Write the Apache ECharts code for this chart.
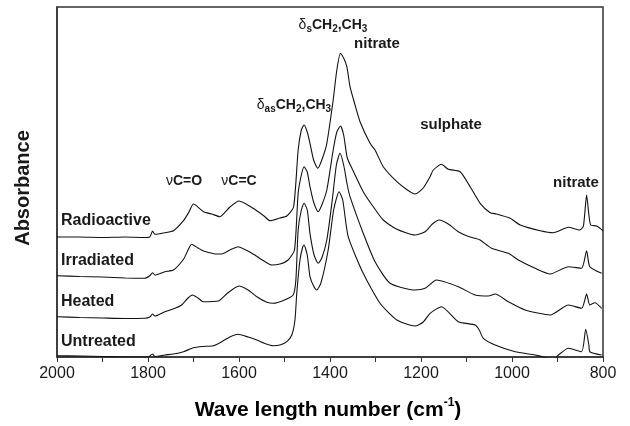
<!DOCTYPE html>
<html>
<head>
<meta charset="utf-8">
<script src="https://cdn.jsdelivr.net/npm/echarts@6/dist/echarts.min.js"></script>
<style>html,body{margin:0;padding:0;background:#fff}#c{width:630px;height:426px}</style>
</head>
<body>
<div id="c"></div>
<script>
// Wavenumber (cm-1) vs absorbance (offset, arbitrary units)
var radioactive = [
[2000,1.20],[1950,1.20],[1900,1.195],[1850,1.20],[1810,1.195],[1796,1.20],[1790,1.26],[1785,1.227],
[1763,1.243],[1744,1.263],[1722,1.363],[1710,1.45],[1700,1.53],[1678,1.453],[1660,1.43],[1642,1.403],
[1620,1.50],[1600,1.56],[1569,1.487],[1545,1.41],[1532,1.363],[1510,1.39],[1495,1.41],[1480,1.50],
[1470,2.07],[1463,2.27],[1457,2.32],[1450,2.25],[1444,2.137],[1436,1.97],[1427,1.887],[1418,1.97],
[1407,2.137],[1393,2.57],[1385,2.87],[1377,3.037],[1370,2.99],[1363,2.903],[1356,2.703],[1345,2.52],
[1334,2.353],[1312,2.137],[1301,2.07],[1283,1.903],[1253,1.753],[1230,1.67],[1213,1.63],[1195,1.69],
[1180,1.803],[1173,1.87],[1155,1.927],[1140,1.877],[1114,1.853],[1092,1.703],[1070,1.537],[1048,1.443],
[1034,1.43],[1004,1.387],[982,1.32],[938,1.263],[909,1.243],[876,1.297],[851,1.27],[843,1.31],
[836,1.62],[831,1.42],[827,1.32],[814,1.31],[800,1.263]
];
var irradiated = [
[2000,0.813],[1950,0.805],[1900,0.80],[1850,0.79],[1807,0.787],[1796,0.813],[1790,0.843],[1785,0.82],
[1763,0.853],[1744,0.87],[1722,0.977],[1712,1.07],[1704,1.127],[1690,1.09],[1678,1.06],[1655,1.033],
[1638,1.03],[1620,1.07],[1602,1.103],[1585,1.07],[1569,1.03],[1545,0.96],[1528,0.92],[1510,0.93],
[1492,0.97],[1478,1.07],[1470,1.637],[1463,1.82],[1457,1.903],[1450,1.85],[1444,1.703],[1436,1.55],
[1426,1.453],[1418,1.52],[1407,1.67],[1393,2.07],[1385,2.25],[1377,2.31],[1370,2.22],[1362,1.99],
[1350,1.87],[1327,1.653],[1305,1.503],[1283,1.37],[1253,1.277],[1213,1.22],[1191,1.253],[1175,1.33],
[1160,1.37],[1140,1.33],[1118,1.253],[1095,1.205],[1081,1.187],[1070,1.17],[1045,1.087],[1008,1.037],
[986,0.97],[949,0.887],[916,0.83],[876,0.903],[847,0.887],[836,1.063],[829,0.903],[803,0.837]
];
var heated = [
[2000,0.403],[1950,0.395],[1900,0.39],[1850,0.385],[1807,0.387],[1796,0.40],[1790,0.43],[1785,0.41],
[1763,0.453],[1745,0.48],[1726,0.52],[1712,0.59],[1702,0.62],[1690,0.59],[1679,0.553],[1645,0.56],
[1625,0.64],[1600,0.71],[1580,0.67],[1560,0.60],[1540,0.55],[1525,0.537],[1500,0.57],[1481,0.62],
[1475,0.77],[1470,1.27],[1463,1.47],[1457,1.537],[1450,1.47],[1444,1.237],[1435,1.02],[1426,0.937],
[1418,0.99],[1407,1.17],[1395,1.57],[1386,1.92],[1378,2.037],[1370,1.92],[1362,1.72],[1356,1.603],
[1327,1.237],[1301,0.953],[1268,0.737],[1213,0.67],[1191,0.687],[1166,0.77],[1118,0.703],[1081,0.62],
[1052,0.61],[1037,0.63],[1008,0.553],[971,0.47],[916,0.42],[876,0.52],[847,0.487],[836,0.63],
[829,0.52],[818,0.543],[803,0.487]
];
var untreated = [
[2000,0.013],[1950,0.01],[1900,0.005],[1850,0.0],[1800,0.0],[1790,0.03],[1785,0.005],[1763,0.02],
[1744,0.03],[1722,0.053],[1700,0.093],[1680,0.105],[1656,0.113],[1638,0.153],[1620,0.20],[1603,0.227],
[1580,0.20],[1561,0.17],[1540,0.13],[1525,0.113],[1510,0.12],[1495,0.153],[1484,0.22],[1477,0.37],
[1473,0.64],[1466,0.97],[1460,1.10],[1457,1.12],[1450,1.02],[1444,0.803],[1436,0.71],[1429,0.67],
[1420,0.74],[1404,1.07],[1392,1.47],[1380,1.653],[1372,1.57],[1360,1.203],[1327,0.837],[1290,0.537],
[1253,0.37],[1213,0.31],[1195,0.35],[1180,0.437],[1155,0.503],[1118,0.353],[1081,0.32],[1072,0.27],
[1063,0.187],[1037,0.12],[993,0.053],[949,0.02],[920,-0.013],[910,-0.03],[898,0.02],[876,0.087],
[847,0.053],[838,0.277],[831,0.12],[829,0.053],[803,0.02]
];
var seriesNames = ['Radioactive','Irradiated','Heated','Untreated'];
var seriesData = [radioactive, irradiated, heated, untreated];
var xTicks = [2000,1800,1600,1400,1200,1000,800];

var FONT = '"Liberation Sans", Arial, Helvetica, sans-serif';
var TXT = '#1a1a1a';

var chart = echarts.init(document.getElementById('c'), null, {renderer:'canvas'});

var sub = {fontSize:10, fontWeight:'bold', fontFamily:FONT, color:TXT, verticalAlign:'bottom', lineHeight:18, padding:[0,0,0,0]};
var big = {fontSize:14, fontWeight:'bold', fontFamily:FONT, color:TXT, lineHeight:18};
var greek = {fontSize:14, fontWeight:'normal', fontFamily:FONT, color:TXT, lineHeight:18};
var richAnn = {b:big, s:sub, g:greek};

function ann(x, y, text, size) {
  return {type:'text', x:x, y:y, style:{text:text, fill:TXT, font:'bold ' + (size||15) + 'px ' + FONT, align:'center', verticalAlign:'middle', rich:richAnn}};
}

var labelYs = [220.7, 260.7, 301.7, 341.7];
var graphics = [];
seriesNames.forEach(function(n, i){
  graphics.push({type:'text', x:61, y:labelYs[i], style:{text:n, fill:TXT, font:'bold 16px ' + FONT, align:'left', verticalAlign:'middle'}});
});
graphics.push(ann(184, 181, '{g|ν}{b|C=O}'));
graphics.push(ann(239, 181, '{g|ν}{b|C=C}'));
graphics.push(ann(294, 105, '{g|δ}{s|as}{b|CH}{s|2}{b|,CH}{s|3}'));
graphics.push(ann(333, 25, '{g|δ}{s|s}{b|CH}{s|2}{b|,CH}{s|3}'));
graphics.push(ann(377, 44, 'nitrate'));
graphics.push(ann(451, 125, 'sulphate'));
graphics.push(ann(576, 183, 'nitrate'));
graphics.push({type:'text', x:23, y:188, rotation:Math.PI/2, style:{text:'Absorbance', fill:TXT, font:'bold 20px ' + FONT, align:'center', verticalAlign:'middle'}});
graphics.push({type:'text', x:328, y:410, style:{
  text:'{a|Wave length number (cm}{p|-1}{a|)}', align:'center', verticalAlign:'middle',
  rich:{a:{fontSize:21, fontWeight:'bold', fontFamily:FONT, color:TXT, lineHeight:26},
        p:{fontSize:12, fontWeight:'bold', fontFamily:FONT, color:TXT, lineHeight:26, verticalAlign:'top'}}
}});

chart.setOption({
  animation:false,
  backgroundColor:'#fff',
  grid:{left:57, right:27, top:7, bottom:69, show:true, borderColor:'#333', borderWidth:1.5, backgroundColor:'transparent'},
  xAxis:{
    type:'value', inverse:true, min:800, max:2000, interval:100,
    axisLine:{show:true, onZero:false, lineStyle:{color:'#333', width:1.5}},
    axisTick:{show:true, inside:false, length:5, lineStyle:{color:'#333', width:1}},
    axisLabel:{show:true, margin:9, fontSize:16, fontFamily:FONT, color:TXT,
      formatter:function(v){ return xTicks.indexOf(v) >= 0 ? String(v) : ''; }},
    splitLine:{show:false}
  },
  yAxis:{
    type:'value', min:0, max:3.5,
    axisLine:{show:true, lineStyle:{color:'#333', width:1.5}},
    axisTick:{show:false}, axisLabel:{show:false}, splitLine:{show:false}
  },
  series: seriesData.map(function(d, i){
    return {type:'line', name:seriesNames[i], data:d, showSymbol:false, symbol:'none', smooth:0.2, clip:true,
      lineStyle:{color:'#111', width:1.1}};
  }),
  graphic: graphics
});
</script>
</body>
</html>
